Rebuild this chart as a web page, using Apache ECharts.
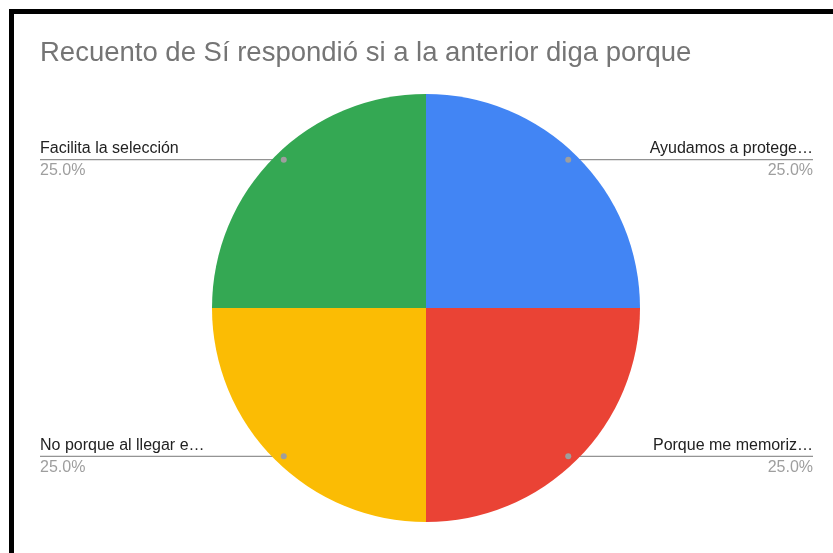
<!DOCTYPE html>
<html>
<head>
<meta charset="utf-8">
<script src="https://cdn.jsdelivr.net/npm/echarts@6/dist/echarts.min.js"></script>
<style>
  html, body { margin: 0; padding: 0; width: 833px; height: 553px; overflow: hidden; background: #fff; }
  #chart { position: absolute; left: 0; top: 0; width: 853px; height: 553px; }
  .frame {
    position: absolute; left: 9px; top: 9px; width: 824px; height: 544px;
    border-top: 5px solid #000; border-left: 5px solid #000;
    box-sizing: border-box; pointer-events: none;
  }
</style>
</head>
<body>
<div id="chart"></div>
<div class="frame"></div>
<script>
// datos
var categories = ['Ayudamos a protege…', 'Porque me memoriz…', 'No porque al llegar e…', 'Facilita la selección'];
var values = [1, 1, 1, 1];
var colors = ['#4285F4', '#EA4335', '#FBBC04', '#34A853'];

var cx = 426, cy = 308;
var font = 'Arial, "Liberation Sans", sans-serif';
var chart = echarts.init(document.getElementById('chart'));
var dotPoints = [];

chart.setOption({
  animation: false,
  title: {
    text: 'Recuento de Sí respondió si a la anterior diga porque',
    left: 35,
    top: 34,
    textStyle: { fontFamily: font, fontSize: 27.5, fontWeight: 'normal', color: '#757575' }
  },
  series: [{
    type: 'pie',
    center: [cx, cy],
    radius: 214,
    startAngle: 90,
    clockwise: true,
    data: categories.map(function (c, i) {
      return { name: c, value: values[i], itemStyle: { color: colors[i] } };
    }),
    label: {
      position: 'outside',
      alignTo: 'edge',
      edgeDistance: 40,
      formatter: function (p) { return '{n|' + p.name + '}\n{p|' + p.percent.toFixed(1) + '%}'; },
      rich: {
        n: { fontFamily: font, fontSize: 16, color: '#222', lineHeight: 22 },
        p: { fontFamily: font, fontSize: 16, color: '#9e9e9e', lineHeight: 22 }
      }
    },
    labelLine: {
      show: true,
      length: 0,
      length2: 0,
      lineStyle: { color: '#777', width: 1 }
    },
    labelLayout: function (params) {
      var isLeft = params.labelRect.x < cx;
      var pts = params.labelLinePoints;
      if (!pts) return {};
      // punto de inicio un poco dentro del sector
      var x0 = cx + (pts[0][0] - cx) * 0.94;
      var y0 = cy + (pts[0][1] - cy) * 0.98;
      pts[0] = [x0, y0];
      pts[1] = [x0, y0];
      pts[2] = [isLeft ? params.labelRect.x : params.labelRect.x + params.labelRect.width, y0];
      dotPoints[params.dataIndex] = [x0, y0];
      return { y: y0, verticalAlign: 'middle', labelLinePoints: pts };
    }
  }]
});

// puntos grises al inicio de cada línea
chart.setOption({
  graphic: dotPoints.map(function (p) {
    return { type: 'circle', shape: { cx: p[0], cy: p[1], r: 3 }, style: { fill: '#9e9e9e' }, z: 100 };
  })
});
</script>
</body>
</html>
